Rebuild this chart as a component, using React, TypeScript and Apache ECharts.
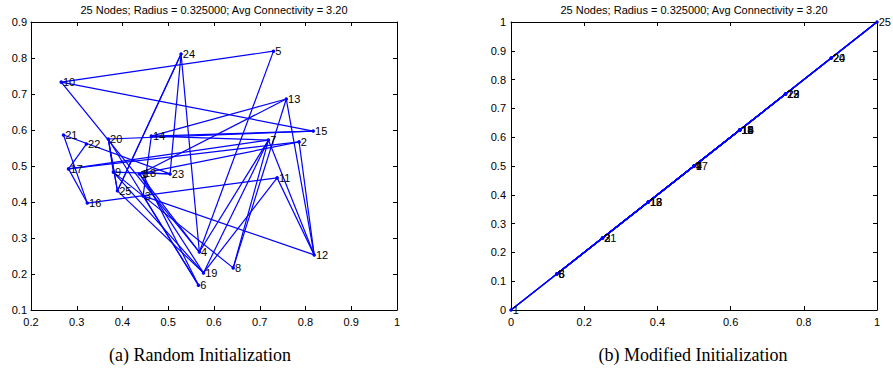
import React, { useEffect, useRef } from "react";
import * as echarts from "echarts";

const titleText = "25 Nodes; Radius = 0.325000; Avg Connectivity = 3.20";
const captionA = "(a) Random Initialization";
const captionB = "(b) Modified Initialization";

// Random initialization node positions (node i+1)
const randX = [0.437, 0.786, 0.445, 0.568, 0.730, 0.566, 0.719, 0.642, 0.380, 0.266,
  0.738, 0.819, 0.758, 0.463, 0.817, 0.323, 0.282, 0.443, 0.577, 0.369,
  0.271, 0.321, 0.504, 0.528, 0.389];
const randY = [0.478, 0.567, 0.417, 0.261, 0.819, 0.169, 0.572, 0.217, 0.483, 0.733,
  0.467, 0.253, 0.686, 0.583, 0.597, 0.397, 0.492, 0.481, 0.203, 0.575,
  0.586, 0.561, 0.478, 0.811, 0.431];

// Modified initialization positions (on the diagonal)
const modX = [0, 0.25, 0.25, 0.5, 0.125, 0.125, 0.5, 0.125, 0.5, 0.625,
  0.625, 0.375, 0.375, 0.625, 0.625, 0.375, 0.5, 0.625, 0.75, 0.875,
  0.25, 0.75, 0.75, 0.875, 1];
const modY = [0, 0.25, 0.25, 0.5, 0.125, 0.125, 0.5, 0.125, 0.5, 0.625,
  0.625, 0.375, 0.375, 0.625, 0.625, 0.375, 0.5, 0.625, 0.75, 0.875,
  0.25, 0.75, 0.75, 0.875, 1];

// Edges (1-based node ids)
const edges: [number, number][] = [
  [10, 5], [10, 15], [10, 4], [24, 25], [24, 23], [24, 4], [5, 4], [13, 14], [13, 18],
  [13, 12], [13, 8], [14, 15], [20, 15], [14, 7], [17, 2], [17, 7], [17, 16], [21, 16],
  [21, 23], [22, 17], [20, 9], [20, 25], [20, 6], [9, 23], [9, 19], [9, 3], [18, 23],
  [18, 6], [1, 4], [1, 19], [3, 12], [3, 8], [3, 6], [14, 3], [16, 11], [11, 12],
  [11, 19], [7, 8], [7, 12], [7, 4], [7, 19], [2, 1], [25, 19], [2, 12], [20, 25], [24, 25],
];

const leftTicksX = { min: 0.2, max: 1, interval: 0.1 };
const leftTicksY = { min: 0.1, max: 0.9, interval: 0.1 };
const rightTicksX = { min: 0, max: 1, interval: 0.2 };
const rightTicksY = { min: 0, max: 1, interval: 0.1 };

const FONT = "Liberation Sans";

function fmt(v: number) {
  const r = Math.round(v * 10) / 10;
  return String(r);
}

function axis(kind: "x" | "y", grid: number, pos: string, ticks: any, showLabel: boolean, margin: number) {
  return {
    type: "value",
    gridIndex: grid,
    position: pos,
    min: ticks.min,
    max: ticks.max,
    interval: ticks.interval,
    splitLine: { show: false },
    axisLine: { show: true, onZero: false, lineStyle: { color: "#000", width: 1 } },
    axisTick: { show: true, inside: true, length: 4, lineStyle: { color: "#000", width: 1 } },
    axisLabel: {
      show: showLabel,
      margin,
      color: "#000",
      fontSize: 11,
      fontFamily: FONT,
      formatter: fmt,
      showMinLabel: true,
      showMaxLabel: true,
    },
  };
}

function graphSeries(xs: number[], ys: number[], xi: number, yi: number) {
  return {
    type: "graph",
    coordinateSystem: "cartesian2d",
    xAxisIndex: xi,
    yAxisIndex: yi,
    symbol: "circle",
    symbolSize: 3.5,
    silent: true,
    data: xs.map((x, i) => ({ name: String(i + 1), value: [x, ys[i]] })),
    links: edges.map(([a, b]) => ({ source: a - 1, target: b - 1 })),
    itemStyle: { color: "#0000ff" },
    lineStyle: { color: "#0000ff", width: 1.2, opacity: 1, curveness: 0 },
    label: {
      show: true,
      position: "right",
      distance: 0,
      formatter: "{b}",
      color: "#000",
      fontSize: 11,
      fontFamily: FONT,
    },
    emphasis: { disabled: true },
  };
}

export default function App() {
  const ref = useRef<HTMLDivElement>(null);
  useEffect(() => {
    if (!ref.current) return;
    const chart = echarts.init(ref.current, undefined, { renderer: "svg" });
    chart.setOption({
      animation: false,
      backgroundColor: "#fff",
      grid: [
        { left: 31, top: 22, width: 366, height: 288 },
        { left: 511, top: 22, width: 366, height: 288 },
      ],
      xAxis: [
        axis("x", 0, "bottom", leftTicksX, true, 6),
        axis("x", 0, "top", leftTicksX, false, 6),
        axis("x", 1, "bottom", rightTicksX, true, 6),
        axis("x", 1, "top", rightTicksX, false, 6),
      ],
      yAxis: [
        axis("y", 0, "left", leftTicksY, true, 4),
        axis("y", 0, "right", leftTicksY, false, 4),
        axis("y", 1, "left", rightTicksY, true, 5),
        axis("y", 1, "right", rightTicksY, false, 5),
      ],
      series: [graphSeries(randX, randY, 0, 0), graphSeries(modX, modY, 2, 2)],
      graphic: [
        {
          type: "text",
          x: 214,
          y: 10,
          style: { text: titleText, fill: "#000", font: `11px "${FONT}"`, align: "center", verticalAlign: "middle" },
        },
        {
          type: "text",
          x: 694,
          y: 10,
          style: { text: titleText, fill: "#000", font: `11px "${FONT}"`, align: "center", verticalAlign: "middle" },
        },
        {
          type: "text",
          x: 200,
          y: 355,
          style: { text: captionA, fill: "#000", font: `18px "Liberation Serif"`, align: "center", verticalAlign: "middle" },
        },
        {
          type: "text",
          x: 693,
          y: 355,
          style: { text: captionB, fill: "#000", font: `18px "Liberation Serif"`, align: "center", verticalAlign: "middle" },
        },
      ],
    });
    return () => chart.dispose();
  }, []);
  return <div ref={ref} style={{ position: "fixed", left: 0, top: 0, width: 893, height: 392 }} />;
}
